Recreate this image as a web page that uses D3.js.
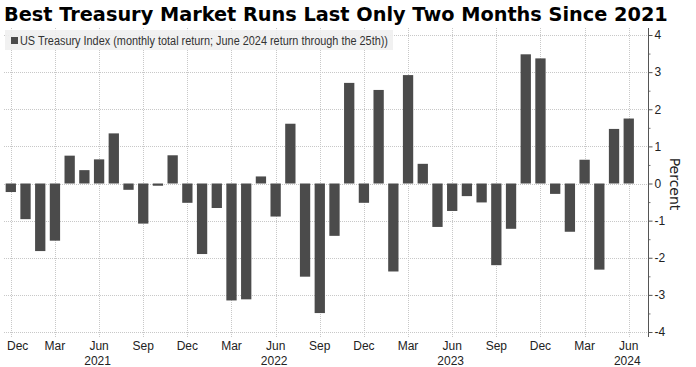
<!DOCTYPE html>
<html><head><meta charset="utf-8">
<script src="https://cdn.jsdelivr.net/npm/d3@7"></script>
<style>body{margin:0;background:#fff} svg{display:block}</style>
</head><body><svg id="c" width="696" height="367"></svg>
<script>
const titleText = "Best Treasury Market Runs Last Only Two Months Since 2021";
const legendText = "US Treasury Index (monthly total return; June 2024 return through the 25th))";
const axisTitle = "Percent";
const months = [
  "Dec 2020",
  "Jan 2021","Feb 2021","Mar 2021","Apr 2021","May 2021","Jun 2021","Jul 2021","Aug 2021","Sep 2021","Oct 2021","Nov 2021","Dec 2021",
  "Jan 2022","Feb 2022","Mar 2022","Apr 2022","May 2022","Jun 2022","Jul 2022","Aug 2022","Sep 2022","Oct 2022","Nov 2022","Dec 2022",
  "Jan 2023","Feb 2023","Mar 2023","Apr 2023","May 2023","Jun 2023","Jul 2023","Aug 2023","Sep 2023","Oct 2023","Nov 2023","Dec 2023",
  "Jan 2024","Feb 2024","Mar 2024","Apr 2024","May 2024","Jun 2024"
];
const returns = [
  -0.23,
  -0.96,-1.82,-1.54,0.75,0.36,0.65,1.35,-0.17,-1.08,-0.06,0.76,-0.52,
  -1.90,-0.66,-3.15,-3.12,0.19,-0.89,1.61,-2.51,-3.49,-1.41,2.71,-0.52,
  2.52,-2.37,2.92,0.53,-1.17,-0.74,-0.34,-0.51,-2.20,-1.22,3.48,3.37,
  -0.28,-1.30,0.64,-2.32,1.47,1.75
];
const yTicks = [-4,-3,-2,-1,0,1,2,3,4];
const yMinorTicks = [-3.5,-2.5,-1.5,-0.5,0.5,1.5,2.5,3.5];
const xTickMonths = ["Dec","Mar","Jun","Sep"];
const yearLabelMonth = "Jun";

const svg = d3.select("#c");
const narrow = "'Liberation Sans Narrow','Liberation Sans',Arial,sans-serif";
const plotL = 4, plotR = 648, plotT = 28, plotB = 337;

const x = d3.scaleBand().domain(months).range([3.45, 636.1]).paddingInner(0.3).paddingOuter(0.15);
const y = d3.scaleLinear().domain([-4, 4]).range([332, 35]);

const tickCats = months.filter(m => xTickMonths.includes(m.split(" ")[0]));
const cx = m => x(m) + x.bandwidth() / 2;

// grid
const grid = svg.append("g").attr("stroke", "#c8c8c8").attr("stroke-width", 1).attr("stroke-dasharray", "1,1");
grid.selectAll("line.h").data(yTicks).join("line").attr("class","h")
  .attr("x1", plotL).attr("x2", plotR)
  .attr("y1", d => Math.round(y(d)) + 0.5).attr("y2", d => Math.round(y(d)) + 0.5);
grid.selectAll("line.v").data(tickCats).join("line").attr("class","v")
  .attr("x1", d => Math.round(cx(d)) + 0.5).attr("x2", d => Math.round(cx(d)) + 0.5)
  .attr("y1", plotT).attr("y2", plotB);

// bars
svg.append("g").selectAll("rect").data(months).join("rect")
  .attr("x", d => x(d)).attr("width", x.bandwidth())
  .attr("y", (d, i) => y(Math.max(0, returns[i])))
  .attr("height", (d, i) => Math.abs(y(returns[i]) - y(0)))
  .attr("fill", "#4b4b4b");

// y axis right
const ax = svg.append("g").attr("transform", `translate(${plotR + 0.5},0)`);
ax.call(d3.axisRight(y).tickValues(yTicks).tickSize(4).tickPadding(2).tickFormat(d => String(d)))
  .call(g => g.select(".domain").remove())
  .call(g => g.selectAll(".tick line").attr("stroke", "#555"))
  .call(g => g.selectAll("text").attr("font-family", narrow).attr("font-size", 12).attr("fill", "#222"));
const axm = svg.append("g").attr("transform", `translate(${plotR + 0.5},0)`);
axm.call(d3.axisRight(y).tickValues(yMinorTicks).tickSize(2).tickFormat(""))
  .call(g => g.select(".domain").remove())
  .call(g => g.selectAll(".tick line").attr("stroke", "#777"));
svg.append("line").attr("x1", plotR + 0.5).attr("x2", plotR + 0.5).attr("y1", plotT).attr("y2", plotB)
  .attr("stroke", "#555").attr("stroke-width", 1);

svg.append("text").attr("transform", `translate(670,184) rotate(90)`)
  .attr("text-anchor", "middle").attr("font-family", "'DejaVu Sans',sans-serif").attr("font-size", 14)
  .attr("fill", "#222").text(axisTitle);

// x labels
const xl = svg.append("g").attr("font-family", narrow).attr("font-size", 12).attr("fill", "#222");
xl.selectAll("text.m").data(tickCats).join("text").attr("class","m")
  .attr("x", d => cx(d)).attr("y", 350).attr("text-anchor", "middle")
  .text(d => d.split(" ")[0])
  .each(function() {
    const b = this.getBBox();
    if (b.x < 7) d3.select(this).attr("text-anchor", "start").attr("x", 7);
  });
xl.selectAll("text.yr").data(tickCats.filter(d => d.startsWith(yearLabelMonth))).join("text").attr("class","yr")
  .attr("x", d => cx(d) - 1.5).attr("y", 364.5).attr("text-anchor", "middle")
  .text(d => d.split(" ")[1]);

// legend
svg.append("rect").attr("x", 5).attr("y", 30).attr("width", 388).attr("height", 20).attr("fill", "#efefef").attr("opacity", 0.9);
svg.append("rect").attr("x", 11).attr("y", 37).attr("width", 7).attr("height", 7).attr("fill", "#4b4b4b");
const lt = svg.append("text").attr("x", 20).attr("y", 45).attr("font-family", narrow).attr("font-size", 12)
  .attr("fill", "#333").text(legendText);
{
  const w = lt.node().getComputedTextLength();
  if (Math.abs(w - 368) > 3) lt.attr("textLength", 368).attr("lengthAdjust", "spacingAndGlyphs");
}

// title
const tt = svg.append("text").attr("x", 4).attr("y", 21).attr("font-family", "'DejaVu Sans',sans-serif")
  .attr("font-weight", "bold").attr("font-size", 18).attr("fill", "#000").text(titleText);
{
  const w = tt.node().getComputedTextLength();
  tt.attr("font-size", 18 * 664 / w);
}
</script></body></html>
